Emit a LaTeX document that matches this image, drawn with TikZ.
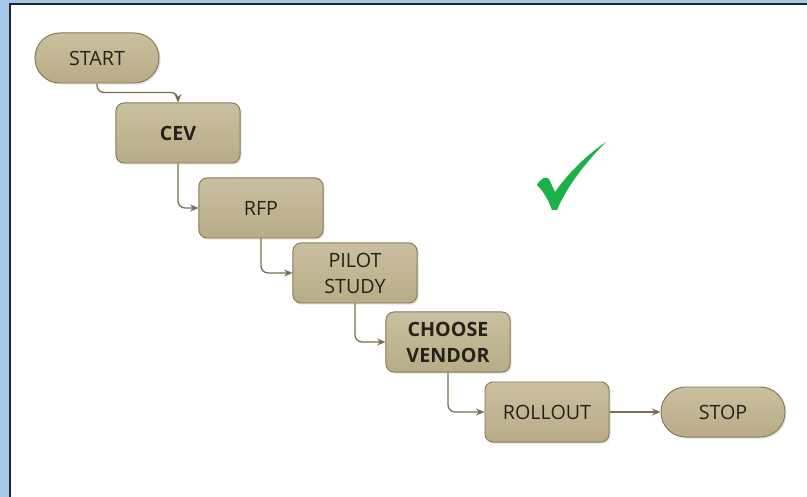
\documentclass[tikz,border=0pt]{standalone}
\usepackage{fontspec}
\setmainfont{Open Sans}
\usepackage{xcolor}
\usetikzlibrary{shapes,arrows,arrows.meta,positioning,shadows,backgrounds}
\definecolor{boxtop}{RGB}{202,192,160}
\definecolor{boxbot}{RGB}{184,172,135}
\definecolor{boxline}{RGB}{135,122,88}
\definecolor{flowline}{RGB}{122,111,76}
\definecolor{panelblue}{RGB}{164,201,234}
\definecolor{checkgreen}{RGB}{28,176,72}
\definecolor{txt}{RGB}{38,34,26}

\begin{document}
\begin{tikzpicture}[x=0.025cm, y=-0.025cm,
    stepbox/.style={rectangle, draw=boxline, line width=0.7pt, rounded corners=0.2cm,
        top color=boxtop, bottom color=boxbot, minimum width=3.1cm, minimum height=1.5cm,
        align=center, font=\fontsize{14}{18.5}\selectfont, text=txt,
        drop shadow={opacity=0.2, shadow xshift=1.2pt, shadow yshift=-1.2pt}},
    terminal/.style={stepbox, rounded corners=0.62cm, minimum height=1.25cm},
    flow/.style={-{Stealth[length=6pt,width=5pt]}, draw=flowline, line width=0.9pt, rounded corners=5pt}
]
\useasboundingbox (0,0) rectangle (807,497);
% frame
\fill[panelblue] (0,0) rectangle (807,497);
\fill[white] (10,4) rectangle (807,497);
\draw[black!85, line width=1.2pt] (10,497) -- (10,4) -- (807,4);

% steps
\node[terminal] (start) at (97,58) {START};
\foreach \n/\x/\y/\t in {cev/178/133/{\textbf{CEV}}, rfp/261/208/{RFP},
    pilot/355/273/{PILOT\\STUDY}, vendor/448/342/{\textbf{CHOOSE}\\\textbf{VENDOR}},
    rollout/547/412/{ROLLOUT}} {
    \node[stepbox] (\n) at (\x,\y) {\t};
}
\node[terminal] (stop) at (723,412) {STOP};

% connectors
\draw[flow] (start.south) -- ++(0,9) -| (cev.north);
\draw[flow] (cev.south) |- (rfp.west);
\draw[flow] (rfp.south) |- (pilot.west);
\draw[flow] (pilot.south) |- (vendor.west);
\draw[flow] (vendor.south) |- (rollout.west);
\draw[flow] (rollout) -- (stop);

% tick
\fill[checkgreen] (537,185) .. controls (541,178) and (546,176) .. (549,179)
    -- (555,192) .. controls (566,176) and (585,156) .. (606,142)
    .. controls (588,160) and (568,184) .. (557,210) -- (552,210)
    .. controls (548,199) and (543,191) .. cycle;
\end{tikzpicture}
\end{document}
